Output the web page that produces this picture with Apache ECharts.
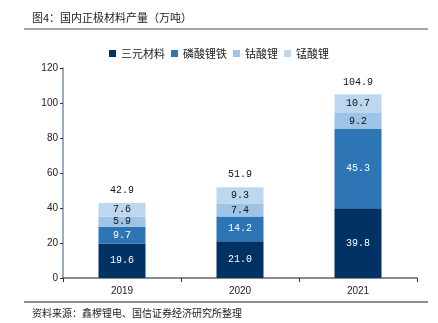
<!DOCTYPE html>
<html><head><meta charset="utf-8">
<script src="https://cdn.jsdelivr.net/npm/echarts@6/dist/echarts.min.js"></script>
<style>html,body{margin:0;padding:0;background:#fff}#c{width:438px;height:323px}</style>
</head><body><div id="c"></div>
<script>
var categories = ['2019', '2020', '2021'];
var ncm = [19.6, 21.0, 39.8];
var lfp = [9.7, 14.2, 45.3];
var lco = [5.9, 7.4, 9.2];
var lmo = [7.6, 9.3, 10.7];
var totals = [42.9, 51.9, 104.9];
var seriesNames = ['三元材料', '磷酸锂铁', '钴酸锂', '锰酸锂'];
var yTicks = [0, 20, 40, 60, 80, 100, 120];

var colors = ['#003263', '#2e75b6', '#9dc3e6', '#bdd7ee'];
var labelColors = ['#fff', '#fff', '#111', '#111'];
var fmt = function (p) { return Number(p.value).toFixed(1); };
var numFont = 'Liberation Mono';
var chart = echarts.init(document.getElementById('c'), null, {renderer: 'canvas'});
var data = [ncm, lfp, lco, lmo];
var series = data.map(function (d, i) {
  return {
    name: seriesNames[i], type: 'bar', stack: 'total', data: d, barWidth: 47,
    itemStyle: {color: colors[i]},
    label: {show: true, position: 'inside', color: labelColors[i], fontSize: 10, fontFamily: numFont, formatter: fmt}
  };
});
series.push({
  name: 'total', type: 'line', data: totals, symbol: 'circle', symbolSize: 1, silent: true,
  showAllSymbol: true,
  itemStyle: {color: 'rgba(0,0,0,0)'}, lineStyle: {width: 0, opacity: 0},
  label: {show: true, position: 'top', distance: 7, color: '#111', fontSize: 10, fontFamily: numFont, formatter: fmt}
});
chart.setOption({
  animation: false,
  textStyle: {fontFamily: 'Noto Sans CJK SC'},
  graphic: [
    {type: 'text', left: 32, top: 12, style: {text: '图4：国内正极材料产量（万吨）', fontSize: 11, fill: '#222', fontFamily: 'Noto Sans CJK SC'}},
    {type: 'line', shape: {x1: 24, y1: 29, x2: 428, y2: 29}, style: {stroke: '#888', lineWidth: 1.5}},
    {type: 'line', shape: {x1: 24, y1: 302, x2: 428, y2: 302}, style: {stroke: '#666', lineWidth: 1.5}},
    {type: 'text', left: 32, top: 308, style: {text: '资料来源：鑫椤锂电、国信证券经济研究所整理', fontSize: 10, fill: '#222', fontFamily: 'Noto Sans CJK SC'}}
  ],
  legend: {
    data: seriesNames, top: 43, left: 'center', itemWidth: 7, itemHeight: 7, itemGap: 6,
    icon: 'rect', textStyle: {fontSize: 11, color: '#222', fontFamily: 'Noto Sans CJK SC'}
  },
  grid: {left: 63, right: 21, top: 68, bottom: 45},
  xAxis: {
    type: 'category', data: categories,
    axisLine: {lineStyle: {color: '#666', width: 1.5}},
    axisTick: {show: true, length: 4, lineStyle: {color: '#333'}},
    axisLabel: {color: '#222', fontSize: 10, margin: 8, fontFamily: 'Liberation Sans'}
  },
  yAxis: {
    type: 'value', min: yTicks[0], max: yTicks[yTicks.length - 1], interval: 20,
    axisLine: {show: true, lineStyle: {color: '#7890a8', width: 1.5}},
    axisTick: {show: true, length: 3, lineStyle: {color: '#333'}},
    splitLine: {show: false},
    axisLabel: {color: '#222', fontSize: 10, margin: 5, fontFamily: 'Liberation Sans'}
  },
  series: series
});
</script></body></html>
